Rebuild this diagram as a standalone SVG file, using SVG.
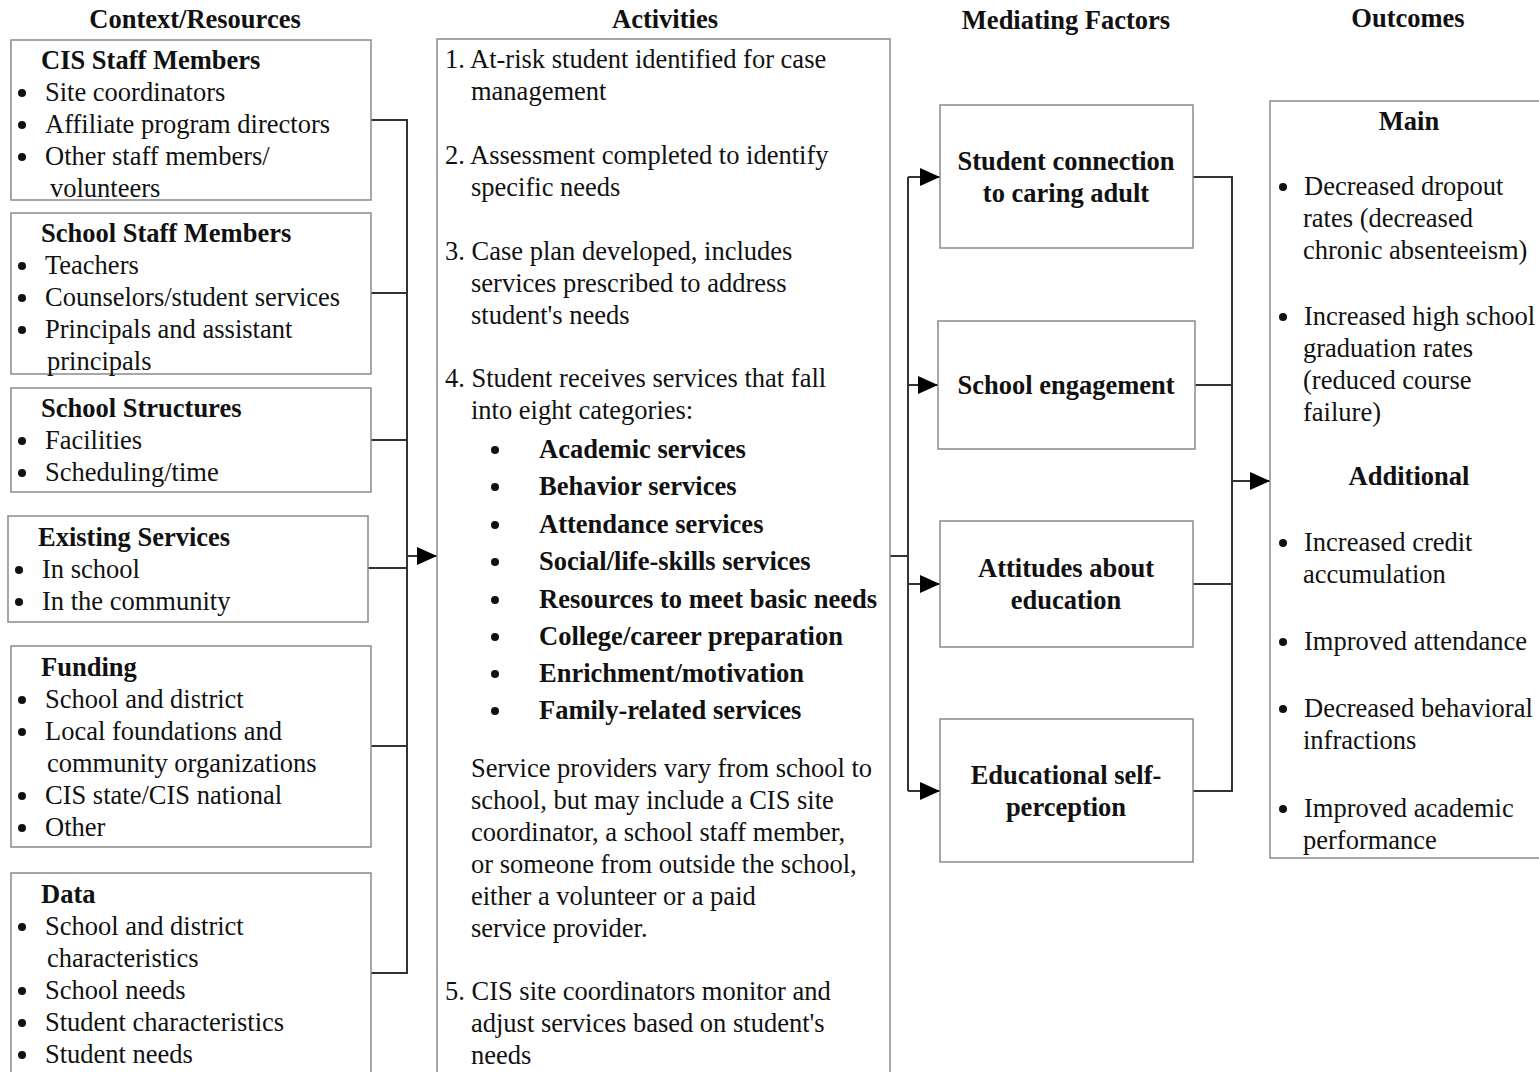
<svg xmlns="http://www.w3.org/2000/svg" width="1539" height="1072" viewBox="0 0 1539 1072">
<defs>
<style>
text{font-family:"Liberation Serif","Times New Roman",serif;font-size:26.5px;fill:#111;transform:translateY(1px)}
.b{font-weight:bold}
.h{font-weight:bold;text-anchor:middle}
.box{fill:#fff;stroke:#8a8a8a;stroke-width:1.5}
.con{fill:none;stroke:#333;stroke-width:2}
.dot{fill:#111}
</style>
<marker id="arrL" markerWidth="20" markerHeight="18" refX="20" refY="9" orient="auto" markerUnits="userSpaceOnUse" viewBox="0 0 20 18">
<path d="M0,0 L20,9 L0,18 Z" fill="#000"/>
</marker>
</defs>
<rect width="1539" height="1072" fill="#fff"/>

<g id="headers">
<text class="h" x="195" y="27">Context/Resources</text>
<text class="h" x="665" y="27">Activities</text>
<text class="h" x="1066" y="28">Mediating Factors</text>
<text class="h" x="1408" y="26">Outcomes</text>
</g>

<g id="connectors">
<path class="con" d="M371,120 H407 V973 H371"/>
<path class="con" d="M371,293 H407"/>
<path class="con" d="M371,440 H407"/>
<path class="con" d="M368,568 H407"/>
<path class="con" d="M371,746 H407"/>
<path class="con" d="M407,556 H437" marker-end="url(#arrL)"/>
<path class="con" d="M890,556 H908"/>
<path class="con" d="M908,177 V791"/>
<path class="con" d="M908,177 H940" marker-end="url(#arrL)"/>
<path class="con" d="M908,385 H938" marker-end="url(#arrL)"/>
<path class="con" d="M908,584 H940" marker-end="url(#arrL)"/>
<path class="con" d="M908,791 H940" marker-end="url(#arrL)"/>
<path class="con" d="M1193,177 H1232 V791 H1193"/>
<path class="con" d="M1195,385 H1232"/>
<path class="con" d="M1193,584 H1232"/>
<path class="con" d="M1232,481 H1270" marker-end="url(#arrL)"/>
</g>

<g id="cis-staff">
<rect class="box" x="11" y="40" width="360" height="160"/>
<text class="b" x="41" y="68">CIS Staff Members</text>
<circle class="dot" cx="22" cy="93" r="4"/><text x="45" y="100">Site coordinators</text>
<circle class="dot" cx="22" cy="125" r="4"/><text x="45" y="132">Affiliate program directors</text>
<circle class="dot" cx="22" cy="157" r="4"/><text x="45" y="164">Other staff members/</text>
<text x="50" y="196">volunteers</text>
</g>

<g id="school-staff">
<rect class="box" x="11" y="213" width="360" height="161"/>
<text class="b" x="41" y="241">School Staff Members</text>
<circle class="dot" cx="22" cy="266" r="4"/><text x="45" y="273">Teachers</text>
<circle class="dot" cx="22" cy="298" r="4"/><text x="45" y="305">Counselors/student services</text>
<circle class="dot" cx="22" cy="330" r="4"/><text x="45" y="337">Principals and assistant</text>
<text x="47" y="369">principals</text>
</g>

<g id="school-structures">
<rect class="box" x="11" y="388" width="360" height="104"/>
<text class="b" x="41" y="416">School Structures</text>
<circle class="dot" cx="22" cy="441" r="4"/><text x="45" y="448">Facilities</text>
<circle class="dot" cx="22" cy="473" r="4"/><text x="45" y="480">Scheduling/time</text>
</g>

<g id="existing-services">
<rect class="box" x="8" y="516" width="360" height="106"/>
<text class="b" x="38" y="545">Existing Services</text>
<circle class="dot" cx="19" cy="570" r="4"/><text x="42" y="577">In school</text>
<circle class="dot" cx="19" cy="602" r="4"/><text x="42" y="609">In the community</text>
</g>

<g id="funding">
<rect class="box" x="11" y="646" width="360" height="201"/>
<text class="b" x="41" y="675">Funding</text>
<circle class="dot" cx="22" cy="700" r="4"/><text x="45" y="707">School and district</text>
<circle class="dot" cx="22" cy="732" r="4"/><text x="45" y="739">Local foundations and</text>
<text x="47" y="771">community organizations</text>
<circle class="dot" cx="22" cy="796" r="4"/><text x="45" y="803">CIS state/CIS national</text>
<circle class="dot" cx="22" cy="828" r="4"/><text x="45" y="835">Other</text>
</g>

<g id="data">
<rect class="box" x="11" y="873" width="360" height="210"/>
<text class="b" x="41" y="902">Data</text>
<circle class="dot" cx="22" cy="927" r="4"/><text x="45" y="934">School and district</text>
<text x="47" y="966">characteristics</text>
<circle class="dot" cx="22" cy="991" r="4"/><text x="45" y="998">School needs</text>
<circle class="dot" cx="22" cy="1023" r="4"/><text x="45" y="1030">Student characteristics</text>
<circle class="dot" cx="22" cy="1055" r="4"/><text x="45" y="1062">Student needs</text>
</g>

<g id="activities">
<rect class="box" x="437" y="39" width="453" height="1045"/>
<text x="445" y="67">1. At-risk student identified for case</text>
<text x="471" y="99">management</text>
<text x="445" y="163">2. Assessment completed to identify</text>
<text x="471" y="195">specific needs</text>
<text x="445" y="259">3. Case plan developed, includes</text>
<text x="471" y="291">services prescribed to address</text>
<text x="471" y="323">student's needs</text>
<text x="445" y="386">4. Student receives services that fall</text>
<text x="471" y="418">into eight categories:</text>
<circle class="dot" cx="495" cy="450" r="4"/><text class="b" x="539" y="457">Academic services</text>
<circle class="dot" cx="495" cy="487" r="4"/><text class="b" x="539" y="494">Behavior services</text>
<circle class="dot" cx="495" cy="525" r="4"/><text class="b" x="539" y="532">Attendance services</text>
<circle class="dot" cx="495" cy="562" r="4"/><text class="b" x="539" y="569">Social/life-skills services</text>
<circle class="dot" cx="495" cy="600" r="4"/><text class="b" x="539" y="607">Resources to meet basic needs</text>
<circle class="dot" cx="495" cy="637" r="4"/><text class="b" x="539" y="644">College/career preparation</text>
<circle class="dot" cx="495" cy="674" r="4"/><text class="b" x="539" y="681">Enrichment/motivation</text>
<circle class="dot" cx="495" cy="711" r="4"/><text class="b" x="539" y="718">Family-related services</text>
<text x="471" y="776">Service providers vary from school to</text>
<text x="471" y="808">school, but may include a CIS site</text>
<text x="471" y="840">coordinator, a school staff member,</text>
<text x="471" y="872">or someone from outside the school,</text>
<text x="471" y="904">either a volunteer or a paid</text>
<text x="471" y="936">service provider.</text>
<text x="445" y="999">5. CIS site coordinators monitor and</text>
<text x="471" y="1031">adjust services based on student's</text>
<text x="471" y="1063">needs</text>
</g>

<g id="student-connection">
<rect class="box" x="940" y="105" width="253" height="143"/>
<text class="h" x="1066" y="169">Student connection</text>
<text class="h" x="1066" y="201">to caring adult</text>
</g>

<g id="school-engagement">
<rect class="box" x="938" y="321" width="257" height="128"/>
<text class="h" x="1066" y="393">School engagement</text>
</g>

<g id="attitudes">
<rect class="box" x="940" y="521" width="253" height="126"/>
<text class="h" x="1066" y="576">Attitudes about</text>
<text class="h" x="1066" y="608">education</text>
</g>

<g id="self-perception">
<rect class="box" x="940" y="719" width="253" height="143"/>
<text class="h" x="1066" y="783">Educational self-</text>
<text class="h" x="1066" y="815">perception</text>
</g>

<g id="outcomes">
<rect class="box" x="1270" y="101" width="280" height="757"/>
<text class="h" x="1409" y="129">Main</text>
<circle class="dot" cx="1283" cy="187" r="4"/><text x="1304" y="194">Decreased dropout</text>
<text x="1303" y="226">rates (decreased</text>
<text x="1303" y="258">chronic absenteeism)</text>
<circle class="dot" cx="1283" cy="317" r="4"/><text x="1304" y="324">Increased high school</text>
<text x="1303" y="356">graduation rates</text>
<text x="1303" y="388">(reduced course</text>
<text x="1303" y="420">failure)</text>
<text class="h" x="1409" y="484">Additional</text>
<circle class="dot" cx="1283" cy="543" r="4"/><text x="1304" y="550">Increased credit</text>
<text x="1303" y="582">accumulation</text>
<circle class="dot" cx="1283" cy="642" r="4"/><text x="1304" y="649">Improved attendance</text>
<circle class="dot" cx="1283" cy="709" r="4"/><text x="1304" y="716">Decreased behavioral</text>
<text x="1303" y="748">infractions</text>
<circle class="dot" cx="1283" cy="809" r="4"/><text x="1304" y="816">Improved academic</text>
<text x="1303" y="848">performance</text>
</g>
</svg>
